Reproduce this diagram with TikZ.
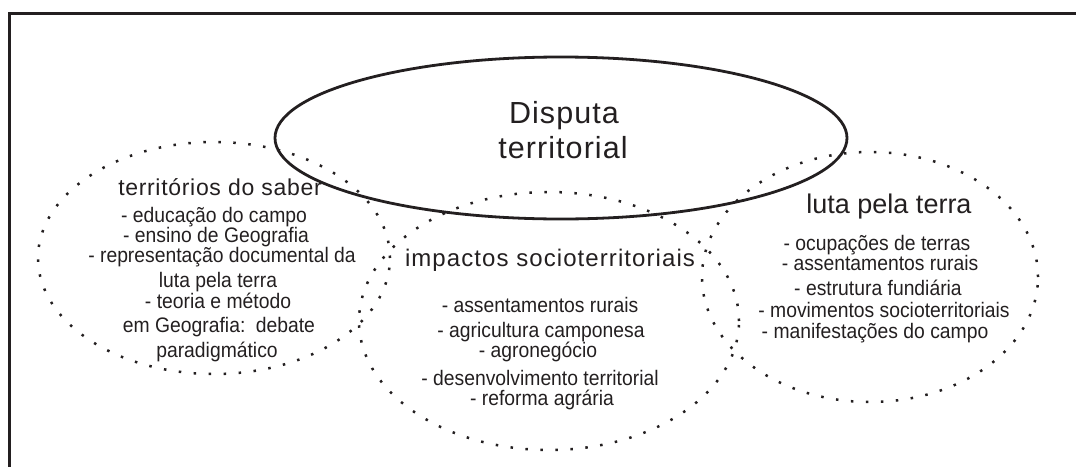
\documentclass[tikz,border=0pt]{standalone}
\usepackage{fontspec}
\setmainfont{Liberation Sans}
\newfontfamily\hdA[LetterSpace=3.5]{Liberation Sans}
\newfontfamily\hdB[LetterSpace=3]{Liberation Sans}
\newfontfamily\hdC[LetterSpace=4.5]{Liberation Sans}
\newfontfamily\itmfont[FakeStretch=0.92]{Liberation Sans}
\usetikzlibrary{shapes.geometric}
\definecolor{ink}{HTML}{231F20}
\tikzset{
  solidell/.style={ellipse, draw=ink, line width=2.8pt, inner sep=0pt},
  dotell/.style={ellipse, draw=ink, line width=2.5pt, inner sep=0pt, dash pattern=on 2.5pt off 12.5pt},
  itm/.style={anchor=base, inner sep=0pt, text=ink, font=\itmfont\fontsize{21}{22}\selectfont},
  hdr/.style={anchor=base, inner sep=0pt, text=ink},
}
\begin{document}
\begin{tikzpicture}[x=1pt,y=-1pt]
\useasboundingbox (0,0) rectangle (1076,466);
\begin{scope}
\clip (0,0) rectangle (1076,466);
\draw[ink, line width=3pt] (1090,13.5) -- (9,13.5) -- (9,480);
\end{scope}
% ellipses
\node[dotell, minimum width=352pt, minimum height=232pt] (saber) at (214,258) {};
\node[dotell, minimum width=380pt, minimum height=258pt] (impactos) at (549,321) {};
\node[dotell, minimum width=336pt, minimum height=250pt] (luta) at (870,277) {};
\node[solidell, minimum width=572pt, minimum height=162pt] (disputa) at (561,138) {};
% Disputa territorial
\node[hdr, font=\hdA\fontsize{30.5}{35}\selectfont] (d1) at (564,123) {Disputa};
\node[hdr, font=\hdA\fontsize{30.5}{35}\selectfont] (d2) at (563,158) {territorial};
% left
\node[hdr, font=\hdB\fontsize{23}{26}\selectfont] (s0) at (220,195) {territórios do saber};
\node[itm] (s1) at (214,222) {- educação do campo};
\node[itm] (s2) at (216,242) {- ensino de Geografia};
\node[itm] (s3) at (222,262) {- representação documental da};
\node[itm] (s4) at (218,287) {luta pela terra};
\node[itm] (s5) at (218,308) {- teoria e método};
\node[itm] (s6) at (219,332) {em Geografia:\hspace{0.5em}debate};
\node[itm] (s7) at (217,357) {paradigmático};
% middle
\node[hdr, font=\hdC\fontsize{24}{27}\selectfont] (m0) at (550,266) {impactos socioterritoriais};
\node[itm] (m1) at (540,312) {- assentamentos rurais};
\node[itm] (m2) at (541,337) {- agricultura camponesa};
\node[itm] (m3) at (538,357) {- agronegócio};
\node[itm] (m4) at (540,385) {- desenvolvimento territorial};
\node[itm] (m5) at (542,405) {- reforma agrária};
% right
\node[hdr, font=\fontsize{27}{30}\selectfont] (l0) at (889,213) {luta pela terra};
\node[itm] (l1) at (877,250) {- ocupações de terras};
\node[itm] (l2) at (880,270) {- assentamentos rurais};
\node[itm] (l3) at (878,295) {- estrutura fundiária};
\node[itm] (l4) at (884,317) {- movimentos socioterritoriais};
\node[itm] (l5) at (875,338) {- manifestações do campo};
\end{tikzpicture}
\end{document}
